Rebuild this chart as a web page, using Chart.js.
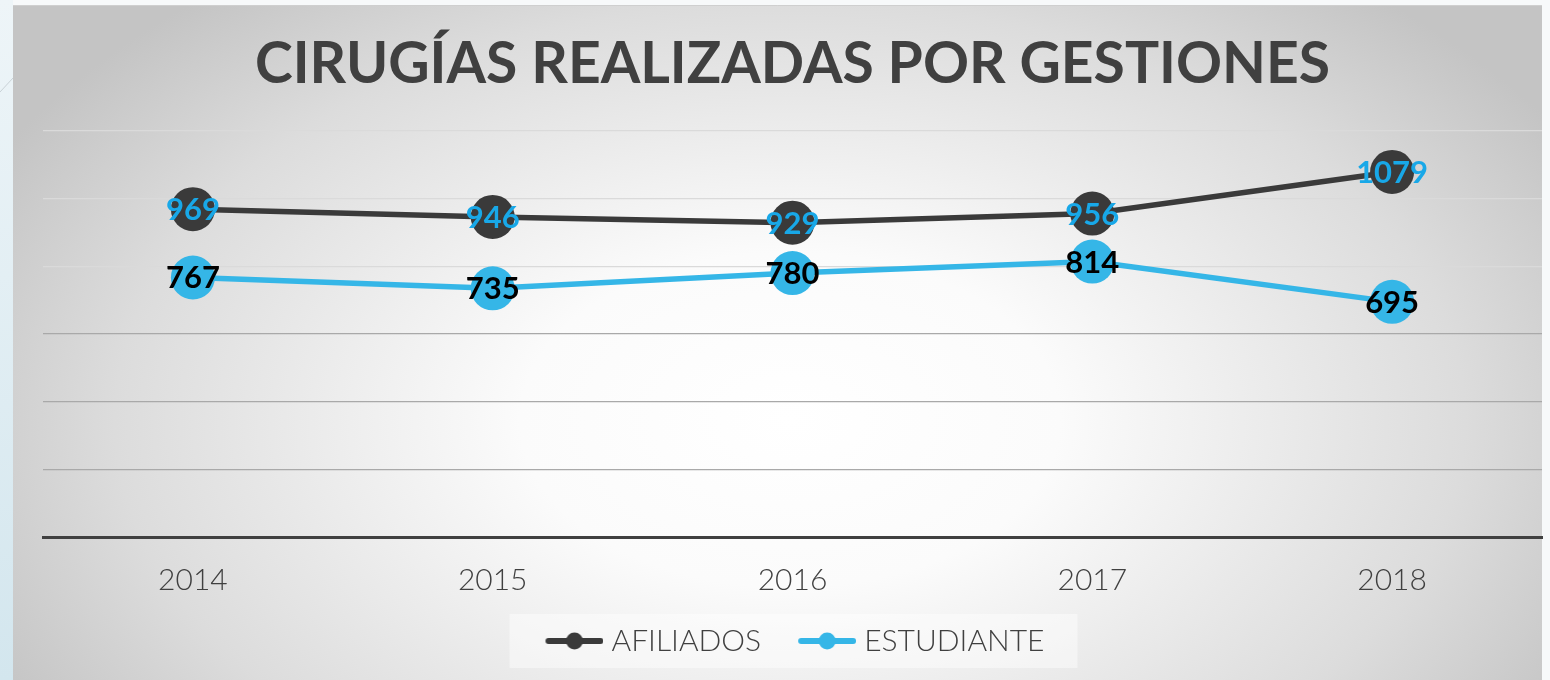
<!DOCTYPE html>
<html>
<head>
<meta charset="utf-8">
<script src="https://cdn.jsdelivr.net/npm/chart.js@4"></script>
<style>
  html, body { margin: 0; padding: 0; background: #ffffff; }
  #wrap { position: relative; width: 1550px; height: 680px; }
  canvas { display: block; }
</style>
</head>
<body>
<div id="wrap"><canvas id="c" width="1550" height="680"></canvas></div>
<script>
const TITLE = 'CIRUGÍAS REALIZADAS POR GESTIONES';
const years = ['2014', '2015', '2016', '2017', '2018'];
const afiliados = [969, 946, 929, 956, 1079];
const estudiante = [767, 735, 780, 814, 695];
const seriesNames = ['AFILIADOS', 'ESTUDIANTE'];
const yTicks = [0, 200, 400, 600, 800, 1000, 1200];

const DARK = '#3a3a3a';
const BLUE = '#35b6e7';
const LABEL_BLUE = '#18a8e8';
const TEXT = '#404040';
const FONT = 'Lato, "Open Sans", sans-serif';

function legendSample(color) {
  const c = document.createElement('canvas');
  c.width = 70; c.height = 20;
  const g = c.getContext('2d');
  g.strokeStyle = color; g.lineWidth = 6; g.lineCap = 'round';
  g.beginPath(); g.moveTo(15, 10); g.lineTo(67, 10); g.stroke();
  g.fillStyle = color;
  g.beginPath(); g.arc(41, 10, 8.5, 0, Math.PI * 2); g.fill();
  return c;
}
const samples = [legendSample(DARK), legendSample(BLUE)];

const bgPlugin = {
  id: 'bg',
  beforeDraw(chart) {
    const ctx = chart.ctx;
    const W = chart.width, H = chart.height;
    ctx.save();
    ctx.fillStyle = '#f7f9fa';
    ctx.fillRect(0, 0, W, H);
    const lg = ctx.createLinearGradient(0, 0, 0, H);
    lg.addColorStop(0, '#eef5f8');
    lg.addColorStop(1, '#d3e6ee');
    ctx.fillStyle = lg;
    ctx.fillRect(0, 0, 13, H);
    ctx.strokeStyle = '#c9d2d6'; ctx.lineWidth = 1;
    ctx.beginPath(); ctx.moveTo(0, 92); ctx.lineTo(13, 78); ctx.stroke();
    const px = 13, py = 5, pw = 1529, ph = H - 5;
    ctx.save();
    ctx.beginPath(); ctx.rect(px, py, pw, ph); ctx.clip();
    ctx.translate(790, 420);
    ctx.scale(1, 0.62);
    const rg = ctx.createRadialGradient(0, 0, 0, 0, 0, 900);
    rg.addColorStop(0, '#ffffff');
    rg.addColorStop(0.3, '#fbfbfb');
    rg.addColorStop(0.75, '#dcdcdc');
    rg.addColorStop(1, '#c4c4c4');
    ctx.fillStyle = rg;
    ctx.fillRect(-900, -1200, 1800, 2400);
    ctx.restore();
    ctx.strokeStyle = '#cfcfcf'; ctx.lineWidth = 1;
    ctx.beginPath(); ctx.moveTo(px, py + 0.5); ctx.lineTo(px + pw, py + 0.5); ctx.stroke();
    const lgd = chart.legend;
    if (lgd && lgd.legendHitBoxes && lgd.legendHitBoxes.length) {
      const hb = lgd.legendHitBoxes;
      const first = hb[0], last = hb[hb.length - 1];
      const cy = first.top + first.height / 2;
      const l = first.left - 31, r = last.left + last.width + 33;
      ctx.fillStyle = 'rgba(255,255,255,0.45)';
      ctx.fillRect(l, cy - 27, r - l, 54);
    }
    ctx.restore();
  }
};

const labelPlugin = {
  id: 'vlabels',
  afterDatasetsDraw(chart) {
    const ctx = chart.ctx;
    ctx.save();
    ctx.font = 'bold 31px ' + FONT;
    ctx.textAlign = 'center';
    ctx.textBaseline = 'middle';
    chart.data.datasets.forEach((ds, i) => {
      const meta = chart.getDatasetMeta(i);
      ctx.fillStyle = i === 0 ? LABEL_BLUE : '#000000';
      meta.data.forEach((pt, j) => {
        ctx.fillText(String(ds.data[j]), pt.x, pt.y + 1);
      });
    });
    ctx.restore();
  }
};

new Chart(document.getElementById('c'), {
  type: 'line',
  data: {
    labels: years,
    datasets: [
      {
        label: seriesNames[0], data: afiliados,
        borderColor: DARK, backgroundColor: DARK,
        pointBackgroundColor: DARK, pointBorderWidth: 0,
        pointRadius: 22, pointHoverRadius: 22,
        borderWidth: 5.5, tension: 0, pointStyle: 'circle'
      },
      {
        label: seriesNames[1], data: estudiante,
        borderColor: BLUE, backgroundColor: BLUE,
        pointBackgroundColor: BLUE, pointBorderWidth: 0,
        pointRadius: 22, pointHoverRadius: 22,
        borderWidth: 5.5, tension: 0, pointStyle: 'circle'
      }
    ]
  },
  options: {
    responsive: false,
    animation: false,
    events: [],
    layout: { autoPadding: false, padding: { left: 43, right: 8, top: 0, bottom: 14 } },
    plugins: {
      tooltip: { enabled: false },
      title: {
        display: true,
        text: TITLE,
        color: TEXT,
        font: { family: FONT, size: 57, weight: 'bold', lineHeight: 1.2 },
        padding: { top: 30, bottom: 32.6 }
      },
      legend: {
        display: true,
        position: 'bottom',
        labels: {
          color: TEXT,
          font: { family: FONT, size: 30, weight: '300' },
          usePointStyle: true,
          pointStyleWidth: 56,
          padding: 32,
          generateLabels(chart) {
            return chart.data.datasets.map((ds, i) => ({
              text: ds.label,
              fillStyle: ds.borderColor,
              strokeStyle: ds.borderColor,
              lineWidth: 0,
              pointStyle: samples[i],
              hidden: false,
              datasetIndex: i,
              fontColor: TEXT
            }));
          }
        }
      }
    },
    scales: {
      x: {
        offset: true,
        grid: { display: false },
        border: { display: true, color: '#404040', width: 3 },
        ticks: {
          color: TEXT,
          font: { family: FONT, size: 30, weight: '300', lineHeight: 1.0 },
          padding: 20
        },
        afterFit(scale) { scale.height = 57; },
        afterUpdate(scale) { scale._computeLabelArea = () => undefined; }
      },
      y: {
        min: 0, max: 1200,
        afterBuildTicks(scale) { scale.ticks = yTicks.map(v => ({ value: v })); },
        grid: {
          drawTicks: false,
          lineWidth: 1.2,
          color(ctx) {
            const v = ctx.tick ? ctx.tick.value : 0;
            if (v === 0) return 'rgba(0,0,0,0)';
            return v >= 800 ? '#dadada' : '#a9a9a9';
          }
        },
        border: { display: false },
        ticks: { display: false },
        afterFit(scale) { scale.width = 0; }
      }
    }
  },
  plugins: [bgPlugin, labelPlugin]
});
</script>
</body>
</html>
